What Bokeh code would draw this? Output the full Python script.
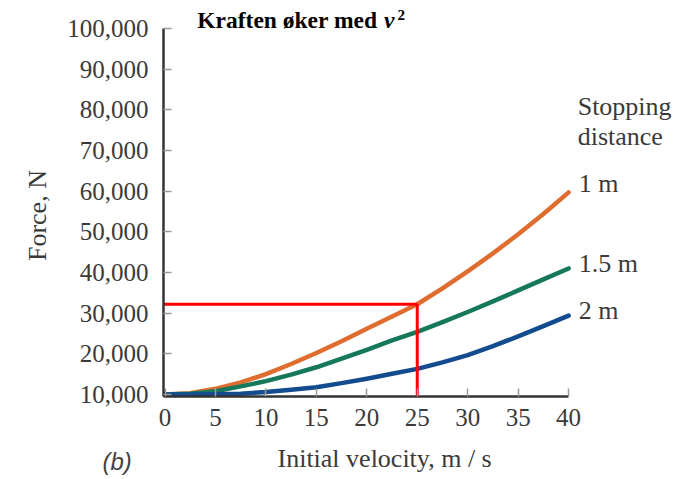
import math
from bokeh.plotting import figure
from bokeh.models import Range1d, Label, FixedTicker, NumeralTickFormatter
from bokeh.embed import file_html
from bokeh.resources import INLINE

# ---- data ----
velocity = [0, 2.5, 5, 7.5, 10, 12.5, 15, 17.5, 20, 22.5, 25, 27.5, 30, 32.5, 35, 37.5, 40]  # m/s
force_1m = [10000, 10300, 11400, 13000, 15000, 17500, 20200, 23100, 26200, 29200, 32200,
            36100, 40300, 44700, 49400, 54400, 59700]
force_1_5m = [10000, 10200, 10800, 12000, 13300, 14900, 16700, 18800, 21000, 23300, 25400,
              27800, 30300, 32900, 35600, 38300, 41000]
force_2m = [10000, 10000, 10050, 10200, 10600, 11150, 11800, 12800, 13900, 15100, 16300,
            17900, 19700, 21900, 24300, 26800, 29400]
series_labels = ["1 m", "1.5 m", "2 m"]
series_colors = ["#DF6D2F", "#16785A", "#124C8E"]

marker_velocity = 25
marker_force = 32200

x_ticks = [0, 5, 10, 15, 20, 25, 30, 35, 40]
y_ticks = [10000, 20000, 30000, 40000, 50000, 60000, 70000, 80000, 90000, 100000]

# axis extents
X0, X1 = -0.15, 40
Y0, Y1 = 9400, 100000

# the frame covers the whole canvas; axes are drawn at fixed locations inside it
W, H = 692, 477
PX_X = 10.09      # pixels per m/s
PX_Y = 4.067      # pixels per 1000 N
LEFT, TOP = 164.5, 28.0
xr = Range1d(-LEFT / PX_X, (W - LEFT) / PX_X)
yr = Range1d(Y1 - (H - TOP) / PX_Y * 1000, Y1 + TOP / PX_Y * 1000)

SERIF = "Liberation Serif"
TXT = "#3a3a3a"

p = figure(width=W, height=H, output_backend="svg", toolbar_location=None,
           x_range=xr, y_range=yr, min_border=0)
p.outline_line_color = None
p.xgrid.visible = False
p.ygrid.visible = False
p.background_fill_color = "white"
p.border_fill_color = "white"

for ax in (p.xaxis[0], p.yaxis[0]):
    ax.axis_line_color = "#333333"
    ax.axis_line_width = 2.5
    ax.major_tick_line_color = "#9a9a9a"
    ax.major_tick_line_width = 1.5
    ax.major_tick_in = 8
    ax.major_tick_out = 0
    ax.minor_tick_line_color = None
    ax.major_label_text_font = SERIF
    ax.major_label_text_font_size = "25px"
    ax.major_label_text_color = TXT

p.xaxis[0].ticker = FixedTicker(ticks=x_ticks)
p.yaxis[0].ticker = FixedTicker(ticks=y_ticks)
p.yaxis[0].formatter = NumeralTickFormatter(format="0,0")
p.xaxis[0].fixed_location = Y0
p.yaxis[0].fixed_location = X0
p.xaxis[0].bounds = (X0, X1)
p.yaxis[0].bounds = (Y0, Y1)
p.xaxis[0].major_label_standoff = 12
p.yaxis[0].major_label_standoff = 15

# curves
for ys, col in zip([force_1m, force_1_5m, force_2m], series_colors):
    p.line(velocity, ys, line_color=col, line_width=4.5, line_cap="round", line_join="round")

# red guide lines
p.line([X0, marker_velocity], [marker_force, marker_force], line_color="#FF0000", line_width=3)
p.line([marker_velocity, marker_velocity], [Y0, marker_force], line_color="#FF0000", line_width=3)

def lab(x, y, text, size="26px", font=SERIF, style="normal", color=TXT, **kw):
    p.add_layout(Label(x=x, y=y, text=text, text_font=font, text_font_style=style,
                       text_font_size=size, text_color=color, **kw))

# curve labels
ends = [force_1m[-1], force_1_5m[-1], force_2m[-1]]
label_dy = [2200, 1300, 1200]
for txt, yv, dy in zip(series_labels, ends, label_dy):
    lab(velocity[-1] + 1.0, yv + dy, txt, text_baseline="alphabetic")

lab(40.9, 80800, "Stopping", text_baseline="alphabetic")
lab(40.9, 73400, "distance", text_baseline="alphabetic")

# axis titles
lab(11.15, -5670, "Initial velocity, m / s", text_baseline="alphabetic")
lab(-12.6, 54000, "Force, N", angle=math.pi / 2, text_align="center", text_baseline="middle")
# panel tag
lab(-6.2, -6480, "(b)", size="24px", font="Liberation Sans", style="italic",
    color="#444444", text_baseline="alphabetic")

# title
lab(3.2, 102090, "Kraften øker med", size="23.5px", style="bold", color="black",
    text_baseline="alphabetic")
lab(21.7, 102090, "v", size="23.5px", style="bold italic", color="black",
    text_baseline="alphabetic")
lab(23.05, 103400, "2", size="15px", style="bold", color="black",
    text_baseline="alphabetic")

open("out.html", "w").write(file_html(p, INLINE))
